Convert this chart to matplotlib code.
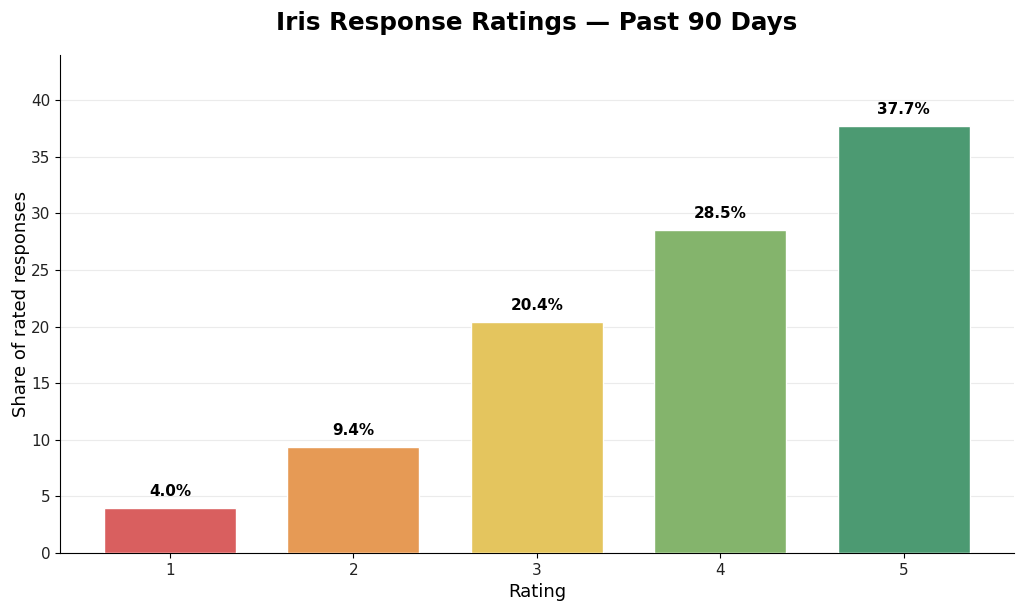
import matplotlib
matplotlib.use("Agg")
import matplotlib.pyplot as plt

# Data
ratings = [1, 2, 3, 4, 5]
shares = [4.0, 9.4, 20.4, 28.5, 37.7]
colors = ["#d95f5f", "#e69a55", "#e4c55e", "#84b46c", "#4c9a72"]

fig, ax = plt.subplots(figsize=(10.24, 6.1), dpi=100)
fig.subplots_adjust(left=0.0586, right=0.990, bottom=0.0934, top=0.910)

bars = ax.bar(ratings, shares, width=0.72, color=colors, edgecolor="white", linewidth=1, zorder=3)

# Value labels above bars
for b, v in zip(bars, shares):
    ax.text(b.get_x() + b.get_width() / 2, v + 0.8, f"{v:.1f}%",
            ha="center", va="bottom", fontsize=11, fontweight="bold")

ax.set_xlim(0.4, 5.6)
ax.set_ylim(0, 44)
ax.set_xticks(ratings)
ax.set_yticks(range(0, 45, 5))
ax.tick_params(labelsize=11, labelcolor="#222222")

ax.yaxis.grid(True, color="#ebebeb", linewidth=0.8, zorder=0)
ax.set_axisbelow(True)
for s in ["top", "right"]:
    ax.spines[s].set_visible(False)

ax.set_xlabel("Rating", fontsize=13, labelpad=4)
ax.set_ylabel("Share of rated responses", fontsize=13, labelpad=1)
ax.set_title("Iris Response Ratings \u2014 Past 90 Days", fontsize=17.7, fontweight="bold", pad=18)

fig.savefig("out.png", dpi=100)
